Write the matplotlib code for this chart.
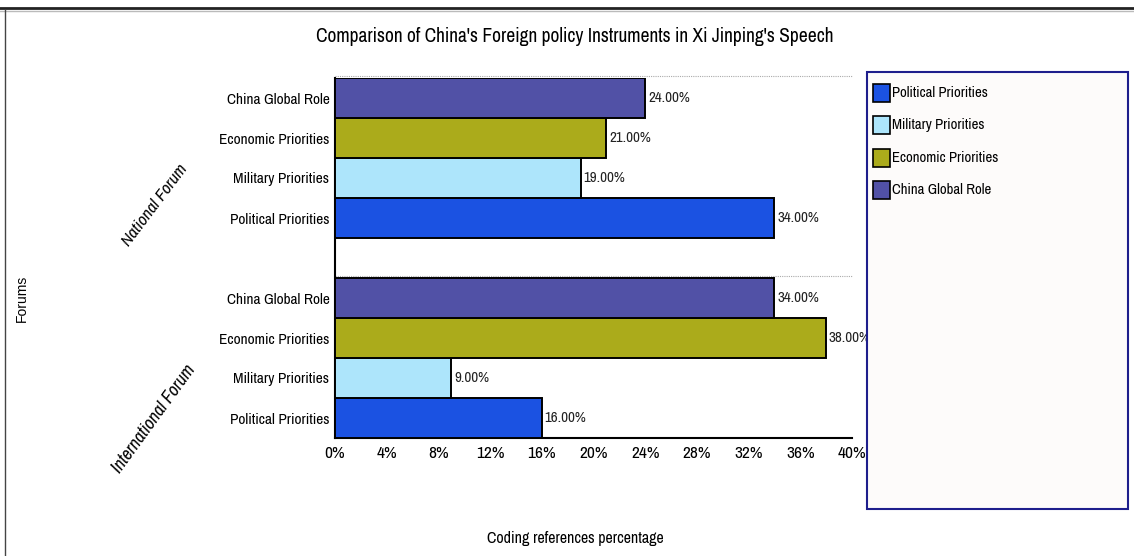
import matplotlib
matplotlib.use("Agg")
import matplotlib.pyplot as plt
from matplotlib.patches import Rectangle
from matplotlib.lines import Line2D

# datos
categorias = ['Political Priorities', 'Military Priorities', 'Economic Priorities', 'China Global Role']
nacional = [34, 19, 21, 24]
internacional = [16, 9, 38, 34]
grupos = ['International Forum', 'National Forum']
colores = ['#1b52e2', '#ade5fb', '#abab1b', '#5151a6']
ticks_x = [0, 4, 8, 12, 16, 20, 24, 28, 32, 36, 40]

plt.rcParams['font.family'] = ['Archivo Narrow', 'DejaVu Sans']
plt.rcParams['font.stretch'] = 'condensed'

W, H = 1134, 556
fig = plt.figure(figsize=(W / 100, H / 100), dpi=100)

def fx(px):
    return px / W

def fy(py):
    return 1 - py / H

# marco de la imagen
fig.add_artist(Line2D([fx(0), fx(W)], [fy(8), fy(8)], color='#222222', lw=2, transform=fig.transFigure))
fig.add_artist(Line2D([fx(0), fx(W)], [fy(10.5), fy(10.5)], color='#bbbbbb', lw=1, transform=fig.transFigure))
fig.add_artist(Line2D([fx(5), fx(5)], [fy(10), fy(H)], color='#444444', lw=1, transform=fig.transFigure))

ax = fig.add_axes([fx(335), fy(438), fx(852 - 335), (438 - 78) / H])

pos_int = [0, 1, 2, 3]
pos_nac = [5, 6, 7, 8]
for pos, vals in [(pos_int, internacional), (pos_nac, nacional)]:
    ax.barh(pos, vals, height=1.0, color=colores, edgecolor='black', linewidth=1.4, zorder=3)
    for p, v in zip(pos, vals):
        ax.text(v + 0.22, p, f'{v:.2f}%', va='center', ha='left', fontsize=10.8, color='#222222')

# lineas punteadas de grupo
for yl in [3.5, 8.5]:
    ax.plot([0, 40], [yl + 0.04, yl + 0.04], linestyle=(0, (1, 1)), color='#aaaaaa', lw=0.8, clip_on=False)

ax.set_xlim(0, 40)
ax.set_ylim(-0.5, 8.5)
ax.set_xticks(ticks_x)
ax.set_xticklabels([f'{t}%' for t in ticks_x], fontsize=12.5)
ax.set_yticks(pos_int + pos_nac)
ax.set_yticklabels(categorias + categorias, fontsize=11)
ax.tick_params(axis='both', length=0)
ax.tick_params(axis='x', pad=6)
ax.tick_params(axis='y', pad=4)
for s in ['top', 'right']:
    ax.spines[s].set_visible(False)
ax.spines['left'].set_linewidth(1.5)
ax.spines['bottom'].set_linewidth(1.5)

# etiquetas de grupo
fig.text(fx(155), fy(205), grupos[1], rotation=53, ha='center', va='center', fontsize=12.5, style='italic')
fig.text(fx(154), fy(419), grupos[0], rotation=54, ha='center', va='center', fontsize=13, style='italic')

fig.text(fx(575), fy(37), "Comparison of China's Foreign policy Instruments in Xi Jinping's Speech",
         ha='center', va='center', fontsize=14)
fig.text(fx(575), fy(539), 'Coding references percentage', ha='center', va='center', fontsize=11.5)
fig.text(fx(22), fy(298), 'Forums', rotation=90, ha='center', va='center', fontsize=10,
         family='Liberation Sans', stretch='normal')

# leyenda
fig.add_artist(Rectangle((fx(867), fy(509)), fx(1128 - 867), (509 - 72) / H, transform=fig.transFigure,
                         facecolor='#fdfbfa', edgecolor='#1e1e8c', lw=1.5))
for i, (c, lab) in enumerate(zip(colores, categorias)):
    yc = 93 + i * 32.3
    fig.add_artist(Rectangle((fx(873), fy(yc + 9)), fx(17), 18 / H, transform=fig.transFigure,
                             facecolor=c, edgecolor='black', lw=1.2))
    fig.text(fx(892), fy(yc), lab, ha='left', va='center', fontsize=10.6)

fig.savefig('out.png', dpi=100)
